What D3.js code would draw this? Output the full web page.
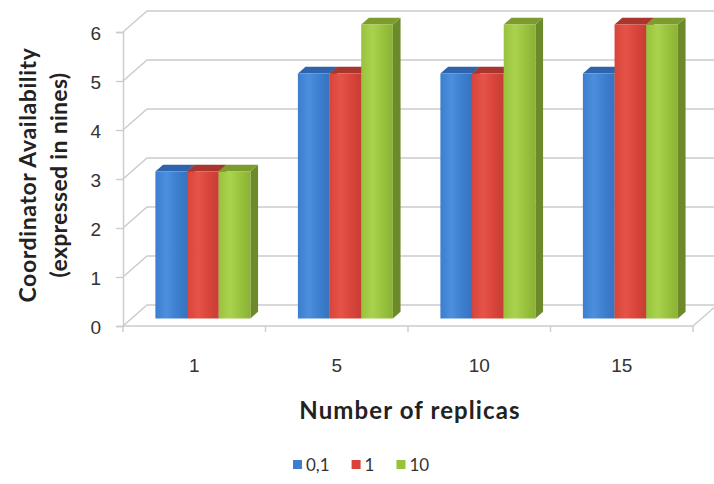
<!DOCTYPE html>
<html>
<head>
<meta charset="utf-8">
<script src="https://cdn.jsdelivr.net/npm/d3@7"></script>
<style>
  html, body { margin: 0; padding: 0; background: #fff; }
  svg { display: block; font-family: Lato, "Open Sans", sans-serif; }
</style>
</head>
<body>
<svg id="chart" width="714" height="484"></svg>
<script>
// Data
const categories = ["1", "5", "10", "15"];
const seriesNames = ["0,1", "1", "10"];
const seriesValues01 = [3, 5, 5, 5];
const seriesValues1 = [3, 5, 5, 6];
const seriesValues10 = [3, 6, 6, 6];
const yTicks = [0, 1, 2, 3, 4, 5, 6];
const xTitle = "Number of replicas";
const yTitleLines = ["Coordinator Availability", "(expressed in nines)"];

const seriesData = [seriesValues01, seriesValues1, seriesValues10];

// Colours per series: front face, light band, top, side
const palette = [
  { front: "#3c7ecf", light: "#4b8fdd", top: "#2e64ac", side: "#2b5c9c" },
  { front: "#d8443a", light: "#e55449", top: "#a9362e", side: "#a2322b" },
  { front: "#98c23c", light: "#aad24f", top: "#7d9c2e", side: "#6c8a29" }
];

const svg = d3.select("#chart");

// Oblique projection: depth 0 = front plane, depth 1 = back wall
const DX = 24, DY = 21;
const proj = (x, y, d) => [x + d * DX, y - d * DY];

const x0 = d3.scaleBand().domain(categories).range([123, 693]);
const x1 = d3.scaleBand().domain(seriesNames).range([0, x0.bandwidth()]).paddingOuter(0.75);
const y = d3.scaleLinear().domain([0, 6]).range([326, 32]);

const gridColor = "#cbcbcb";
const grid = svg.append("g").attr("fill", "none").attr("stroke", gridColor).attr("stroke-width", 1.4);

// Back wall gridlines and side wall diagonals
yTicks.forEach(v => {
  const a = proj(x0.range()[0], y(v), 0);
  const b = proj(x0.range()[0], y(v), 1);
  const c = proj(x0.range()[1], y(v), 1);
  grid.append("path").attr("d", d3.line()([a, b, c]));
});

// Floor outline
const floorPts = [
  proj(x0.range()[0], y(0), 0),
  proj(x0.range()[1], y(0), 0),
  proj(x0.range()[1], y(0), 1)
];
grid.append("path").attr("d", d3.line()(floorPts));

// Gradients for front faces
const defs = svg.append("defs");
palette.forEach((p, i) => {
  const g = defs.append("linearGradient").attr("id", "front" + i)
    .attr("x1", "0").attr("x2", "1").attr("y1", "0").attr("y2", "0");
  g.append("stop").attr("offset", "0").attr("stop-color", p.front);
  g.append("stop").attr("offset", "0.35").attr("stop-color", p.light);
  g.append("stop").attr("offset", "0.7").attr("stop-color", p.front);
  g.append("stop").attr("offset", "1").attr("stop-color", d3.color(p.front).darker(0.25));
});

// Bars: front face, top face, right side face
const D0 = 0.36, D1 = 0.68;
const bars = svg.append("g");
categories.forEach((cat, ci) => {
  seriesNames.forEach((s, si) => {
    const v = seriesData[si][ci];
    const xl = x0(cat) + x1(s);
    const xr = xl + x1.bandwidth();
    const yt = y(v), yb = y(0);
    const p = palette[si];
    const poly = pts => "M" + pts.map(q => q.join(",")).join("L") + "Z";
    // side
    bars.append("path").attr("fill", p.side)
      .attr("d", poly([proj(xr, yt, D0), proj(xr, yt, D1), proj(xr, yb, D1), proj(xr, yb, D0)]));
    // top
    bars.append("path").attr("fill", p.top)
      .attr("d", poly([proj(xl, yt, D0), proj(xl, yt, D1), proj(xr, yt, D1), proj(xr, yt, D0)]));
    // front
    bars.append("path").attr("fill", `url(#front${si})`)
      .attr("d", poly([proj(xl, yt, D0), proj(xr, yt, D0), proj(xr, yb, D0), proj(xl, yb, D0)]));
  });
});

// Y axis on the front-left edge
const yAxis = svg.append("g")
  .attr("transform", `translate(${x0.range()[0]},0)`)
  .call(d3.axisLeft(y).tickValues(yTicks).tickSize(7).tickPadding(15).tickFormat(d3.format("d")));
yAxis.select(".domain").attr("stroke", gridColor).attr("stroke-width", 1.4);
yAxis.selectAll(".tick line").attr("stroke", gridColor).attr("stroke-width", 1.4);
yAxis.selectAll("text").attr("font-size", 19).attr("fill", "#333").attr("dy", "0.42em");

// X axis: category labels and separator ticks along the front floor edge
const xAxis = svg.append("g")
  .attr("transform", `translate(0,${y(0)})`)
  .call(d3.axisBottom(x0).tickSize(0).tickPadding(33));
xAxis.select(".domain").remove();
xAxis.selectAll("text").attr("font-size", 19).attr("fill", "#333");

const sepX = categories.map(c => x0(c)).concat([x0.range()[1]]);
svg.append("g").selectAll("line").data(sepX).join("line")
  .attr("x1", d => d).attr("x2", d => d)
  .attr("y1", y(0)).attr("y2", y(0) + 6)
  .attr("stroke", gridColor).attr("stroke-width", 1.4);

// Axis titles
svg.append("text")
  .attr("x", 410).attr("y", 419)
  .attr("text-anchor", "middle").attr("font-size", 24).attr("font-weight", "bold")
  .attr("letter-spacing", 1.1).attr("fill", "#222")
  .text(xTitle);

const yt = svg.append("text")
  .attr("transform", "translate(0,175) rotate(-90)")
  .attr("text-anchor", "middle").attr("font-size", 23).attr("font-weight", "bold").attr("fill", "#222");
yTitleLines.forEach((t, i) => {
  yt.append("tspan").attr("x", 0).attr("y", 36 + i * 31)
    .attr("letter-spacing", i === 0 ? 0.6 : 0.3).text(t);
});

// Legend
const legend = svg.append("g").attr("transform", "translate(293,465)");
let lx = 0;
seriesNames.forEach((s, i) => {
  const g = legend.append("g").attr("transform", `translate(${lx},0)`);
  g.append("rect").attr("x", 0).attr("y", -5).attr("width", 9).attr("height", 9).attr("fill", palette[i].front);
  const t = g.append("text").attr("x", 13).attr("y", 0).attr("dy", "0.36em")
    .attr("font-size", 17).attr("fill", "#333").text(s);
  lx += 13 + t.node().getComputedTextLength() + 22;
});
</script>
</body>
</html>
